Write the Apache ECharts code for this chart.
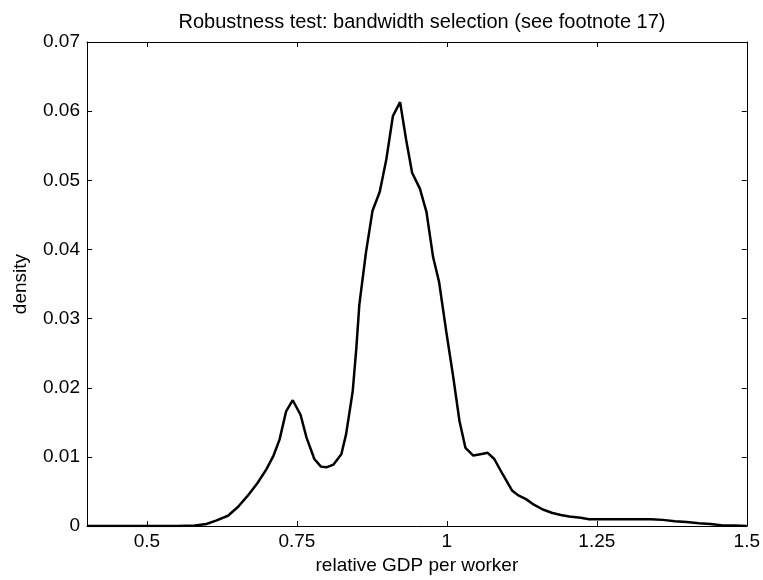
<!DOCTYPE html>
<html>
<head>
<meta charset="utf-8">
<script src="https://cdn.jsdelivr.net/npm/echarts@6/dist/echarts.min.js"></script>
<style>html,body{margin:0;padding:0;background:#fff}#c{width:763px;height:580px}</style>
</head>
<body>
<div id="c"></div>
<script>
var titleText = 'Robustness test: bandwidth selection (see footnote 17)';
var xName = 'relative GDP per worker';
var yName = 'density';
var xTicks = [0.5, 0.75, 1, 1.25, 1.5];
var yTicks = [0, 0.01, 0.02, 0.03, 0.04, 0.05, 0.06, 0.07];
var xs = [0.4, 0.45, 0.5, 0.55, 0.58, 0.599, 0.615, 0.635, 0.652, 0.668, 0.684, 0.699, 0.711, 0.721, 0.732, 0.743, 0.756, 0.766, 0.779, 0.79, 0.799, 0.811, 0.824, 0.832, 0.843, 0.849, 0.854, 0.865, 0.876, 0.888, 0.899, 0.91, 0.922, 0.932, 0.942, 0.955, 0.966, 0.977, 0.987, 0.999, 1.01, 1.021, 1.031, 1.044, 1.056, 1.068, 1.079, 1.093, 1.109, 1.12, 1.132, 1.145, 1.16, 1.176, 1.19, 1.204, 1.223, 1.237, 1.27, 1.3, 1.34, 1.36, 1.38, 1.4, 1.42, 1.44, 1.46, 1.48, 1.5];
var ys = [0, 0, 0, 0, 0.0001, 0.0003, 0.0008, 0.0015, 0.0028, 0.0044, 0.0062, 0.0082, 0.0102, 0.0125, 0.0166, 0.0182, 0.0161, 0.0128, 0.0097, 0.0086, 0.0085, 0.0089, 0.0104, 0.0133, 0.0195, 0.0257, 0.032, 0.0395, 0.0456, 0.0483, 0.053, 0.0593, 0.0613, 0.0559, 0.0511, 0.0488, 0.0454, 0.0389, 0.0353, 0.0281, 0.0219, 0.0152, 0.0113, 0.0102, 0.0104, 0.0106, 0.0097, 0.0075, 0.0051, 0.0044, 0.0039, 0.0031, 0.0024, 0.0019, 0.0016, 0.0014, 0.0012, 0.0010, 0.0010, 0.0010, 0.0010, 0.0009, 0.0007, 0.0006, 0.0004, 0.0003, 0.0001, 0.0001, 0];

var data = xs.map(function (x, i) { return [x, ys[i]]; });
var FONT = 'Liberation Sans, Arial, sans-serif';
var FS = 19;
var chart = echarts.init(document.getElementById('c'), null, {renderer: 'canvas'});
var line = {show: true, onZero: false, lineStyle: {color: '#000', width: 1}};
function xAx(pos, showLabel) {
  return {
    type: 'value', position: pos, min: 0.4, max: 1.5,
    axisLine: line,
    axisTick: {show: true, inside: true, length: 5, customValues: xTicks, lineStyle: {color: '#000'}},
    axisLabel: {show: showLabel, customValues: xTicks, color: '#000', fontFamily: FONT, fontSize: FS, margin: 6},
    splitLine: {show: false},
    name: showLabel ? xName : '', nameLocation: 'middle', nameGap: 28,
    nameTextStyle: {color: '#000', fontFamily: FONT, fontSize: FS}
  };
}
function yAx(pos, showLabel) {
  return {
    type: 'value', position: pos, min: 0, max: 0.07, interval: 0.01,
    axisLine: line,
    axisTick: {show: true, inside: true, length: 5, lineStyle: {color: '#000'}},
    axisLabel: {show: showLabel, color: '#000', fontFamily: FONT, fontSize: FS, margin: 7,
      formatter: function (v) { return String(Math.round(v * 100) / 100); }},
    splitLine: {show: false},
    name: showLabel ? yName : '', nameLocation: 'middle', nameGap: 57,
    nameTextStyle: {color: '#000', fontFamily: FONT, fontSize: FS}
  };
}
chart.setOption({
  animation: false,
  backgroundColor: '#fff',
  title: {text: titleText, left: 417, textAlign: 'center', top: 7,
    textStyle: {color: '#000', fontFamily: FONT, fontSize: 20, fontWeight: 'normal'}},
  grid: {left: 87, right: 15, top: 42, bottom: 51, containLabel: false},
  xAxis: [xAx('bottom', true), xAx('top', false)],
  yAxis: [yAx('left', true), yAx('right', false)],
  series: [{
    type: 'line', data: data, xAxisIndex: 0, yAxisIndex: 0,
    showSymbol: false, smooth: false,
    lineStyle: {color: '#000', width: 2.5}
  }]
});
</script>
</body>
</html>
